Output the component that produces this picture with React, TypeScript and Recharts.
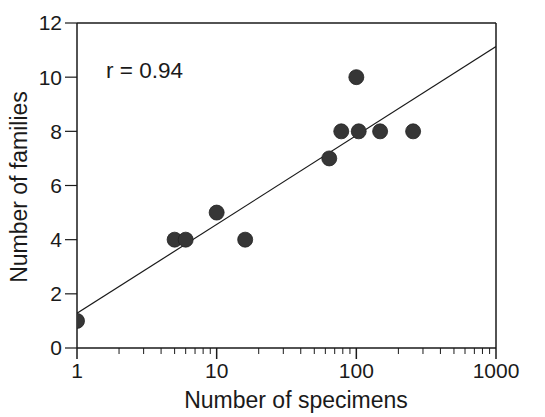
import React from "react";
import { ScatterChart, Scatter, XAxis, YAxis, ReferenceLine } from "recharts";

const specimens = [1, 5, 6, 10, 16, 64, 78, 100, 104, 148, 255];
const families = [1, 4, 4, 5, 4, 7, 8, 10, 8, 8, 8];
const fitX = [1, 1000];
const fitY = [1.28, 11.13];
const majorTicks = [1, 10, 100, 1000];
const minorTicks = [2, 3, 4, 5, 6, 7, 8, 9, 20, 30, 40, 50, 60, 70, 80, 90, 200, 300, 400, 500, 600, 700, 800, 900];
const yTicks = [0, 2, 4, 6, 8, 10, 12];

const FONT = '"Liberation Sans", Arial, Helvetica, sans-serif';
const INK = "#1a1a1a";

const points = specimens.map((x, i) => ({ x, y: families[i] }));
const fitLine = fitX.map((x, i) => ({ x, y: fitY[i] }));
const allTicks = [...majorTicks, ...minorTicks].sort((a, b) => a - b);

/* eslint-disable @typescript-eslint/no-explicit-any */
function XTick(props: any) {
  const { x, y, payload } = props;
  const v = payload?.value;
  const major = majorTicks.includes(v);
  return (
    <g>
      <line x1={x} x2={x} y1={y} y2={y + (major ? 11 : 6)} stroke={INK} strokeWidth={major ? 1.5 : 1} />
      {major && (
        <text x={x} y={y + 30} textAnchor="middle" fontSize={21} fontFamily={FONT} fill={INK}>
          {v}
        </text>
      )}
    </g>
  );
}

function Dot(props: any) {
  const { cx, cy } = props;
  if (cx == null || cy == null) return <g />;
  return <circle cx={cx} cy={cy} r={7.5} fill="#363636" stroke="#222" strokeWidth={0.8} />;
}
/* eslint-enable @typescript-eslint/no-explicit-any */

export default function App() {
  return (
    <div style={{ position: "absolute", left: 0, top: 0, width: 545, height: 417, background: "#fff" }}>
      <ScatterChart width={545} height={417} margin={{ top: 23, right: 49, bottom: 0, left: 0 }}>
        <XAxis
          type="number"
          dataKey="x"
          scale="log"
          domain={[1, 1000]}
          ticks={allTicks}
          interval={0}
          tickSize={0}
          tickMargin={0}
          tickLine={false}
          tick={<XTick />}
          height={69}
          axisLine={{ stroke: INK, strokeWidth: 1.5 }}
          allowDataOverflow
        />
        <YAxis
          type="number"
          dataKey="y"
          domain={[0, 12]}
          ticks={yTicks}
          interval={0}
          width={77}
          tickSize={12}
          tickMargin={3}
          tickLine={{ stroke: INK, strokeWidth: 1.2 }}
          axisLine={{ stroke: INK, strokeWidth: 1.5 }}
          tick={{ fontSize: 21, fontFamily: FONT, fill: INK }}
          allowDataOverflow
        />
        <ReferenceLine y={12} stroke={INK} strokeWidth={1.5} />
        <ReferenceLine x={1000} stroke={INK} strokeWidth={1.5} />
        <Scatter
          data={fitLine}
          line={{ stroke: INK, strokeWidth: 1.2 }}
          shape={() => <g />}
          isAnimationActive={false}
        />
        <Scatter data={points} shape={<Dot />} isAnimationActive={false} />
      </ScatterChart>
      <svg width={545} height={417} style={{ position: "absolute", left: 0, top: 0, pointerEvents: "none" }}>
        <text x={106} y={78} fontSize={22.5} fontFamily={FONT} fill={INK}>
          r = 0.94
        </text>
        <text
          transform="translate(27,187) rotate(-90)"
          textAnchor="middle"
          fontSize={23}
          fontFamily={FONT}
          fill={INK}
        >
          Number of families
        </text>
        <text x={296} y={408} textAnchor="middle" fontSize={23} fontFamily={FONT} fill={INK}>
          Number of specimens
        </text>
      </svg>
    </div>
  );
}
